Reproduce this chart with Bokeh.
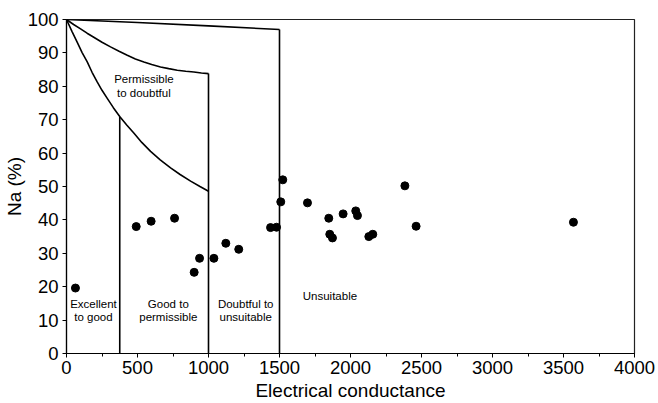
from bokeh.plotting import figure
from bokeh.models import Range1d, FixedTicker, ColumnDataSource
from bokeh.core.properties import value
from bokeh.embed import file_html
from bokeh.resources import INLINE

# Sample data: electrical conductance vs Na (%)
ec = [63, 491, 596, 761, 899, 937, 1038, 1122, 1213, 1437, 1479, 1509, 1523,
      1697, 1847, 1854, 1873, 1948, 2037, 2049, 2129, 2157, 2383, 2462, 3570]
na = [19.6, 38.0, 39.6, 40.5, 24.3, 28.5, 28.5, 33.0, 31.2, 37.7, 37.8, 45.4, 52.0,
      45.1, 40.5, 35.7, 34.6, 41.8, 42.7, 41.3, 35.0, 35.7, 50.2, 38.1, 39.3]

# Wilcox diagram boundary curves
low_ec = [0, 40, 75, 110, 146, 180, 216, 250, 287, 330, 376, 424, 474, 530, 592, 660, 733, 800, 874, 940, 1000]
low_na = [100, 96.3, 93.2, 90.1, 87.3, 84.2, 81.3, 78.8, 76.4, 73.6, 70.9, 68.4, 66.0, 63.2, 60.5, 58.0, 55.6, 53.6, 51.6, 50.0, 48.6]
mid_ec = [0, 50, 99, 145, 192, 250, 310, 370, 428, 485, 545, 600, 662, 720, 780, 840, 897, 950, 1000]
mid_na = [100, 98.5, 97.2, 95.9, 94.7, 93.2, 91.8, 90.5, 89.3, 88.2, 87.3, 86.5, 85.8, 85.3, 84.8, 84.5, 84.3, 84.0, 83.8]
top_ec = [0, 500, 1000, 1500]
top_na = [100, 99.1, 98.1, 97.0]
class_ec = [375, 1000, 1500]
class_top = [70.9, 83.8, 97.0]

# Region labels
label_text = ["Excellent", "to good", "Good to", "permissible", "Doubtful to", "unsuitable",
              "Unsuitable", "Permissible", "to doubtful"]
label_x = [190, 190, 717, 717, 1262, 1262, 1855, 545, 545]
label_y = [14.9, 10.9, 14.9, 10.9, 14.9, 10.9, 17.2, 82.1, 77.9]

x_ticks = [0, 500, 1000, 1500, 2000, 2500, 3000, 3500, 4000]
y_ticks = [0, 10, 20, 30, 40, 50, 60, 70, 80, 90, 100]

p = figure(width=658, height=403, output_backend="svg", toolbar_location=None,
           x_range=Range1d(0, 4000), y_range=Range1d(0, 100),
           min_border_left=66, min_border_right=24, min_border_top=19, min_border_bottom=48,
           background_fill_color="white", border_fill_color="white")
p.grid.visible = False
p.outline_line_color = "#222222"
p.outline_line_width = 1.2

font = "Liberation Sans"
for ax in (p.xaxis[0], p.yaxis[0]):
    ax.axis_line_color = "black"
    ax.axis_line_width = 1.2
    ax.major_tick_line_color = "black"
    ax.minor_tick_line_color = "black"
    ax.major_tick_out = 4
    ax.major_tick_in = 0
    ax.minor_tick_out = 3
    ax.minor_tick_in = 0
    ax.major_label_text_font = font
    ax.major_label_text_font_size = "18.5px"
    ax.major_label_text_color = "black"
    ax.axis_label_text_font = font
    ax.axis_label_text_font_size = "19px"
    ax.axis_label_text_font_style = "normal"
    ax.axis_label_text_color = "black"

p.xaxis.ticker = FixedTicker(ticks=x_ticks, minor_ticks=list(range(0, 4001, 250)))
p.yaxis.ticker = FixedTicker(ticks=y_ticks, minor_ticks=[])
p.xaxis.axis_label = "Electrical conductance"
p.yaxis.axis_label = "Na (%)"
p.xaxis.major_label_standoff = 3
p.xaxis.axis_label_standoff = 3
p.yaxis.major_label_standoff = 4
p.yaxis.axis_label_standoff = 0

lw = 1.6
p.line(low_ec, low_na, line_color="black", line_width=lw)
p.line(mid_ec, mid_na, line_color="black", line_width=lw)
p.line(top_ec, top_na, line_color="black", line_width=lw)
p.segment(x0=class_ec, y0=[0, 0, 0], x1=class_ec, y1=class_top, line_color="black", line_width=lw)

p.scatter(ec, na, size=8, color="black")

src = ColumnDataSource(dict(x=label_x, y=label_y, t=label_text))
p.text(x="x", y="y", text="t", source=src, text_align="center", text_baseline="middle",
       text_font=value("Liberation Sans Narrow, Liberation Sans, sans-serif"),
       text_font_size="11.5px", text_color="black")

open("out.html", "w").write(file_html(p, INLINE))
